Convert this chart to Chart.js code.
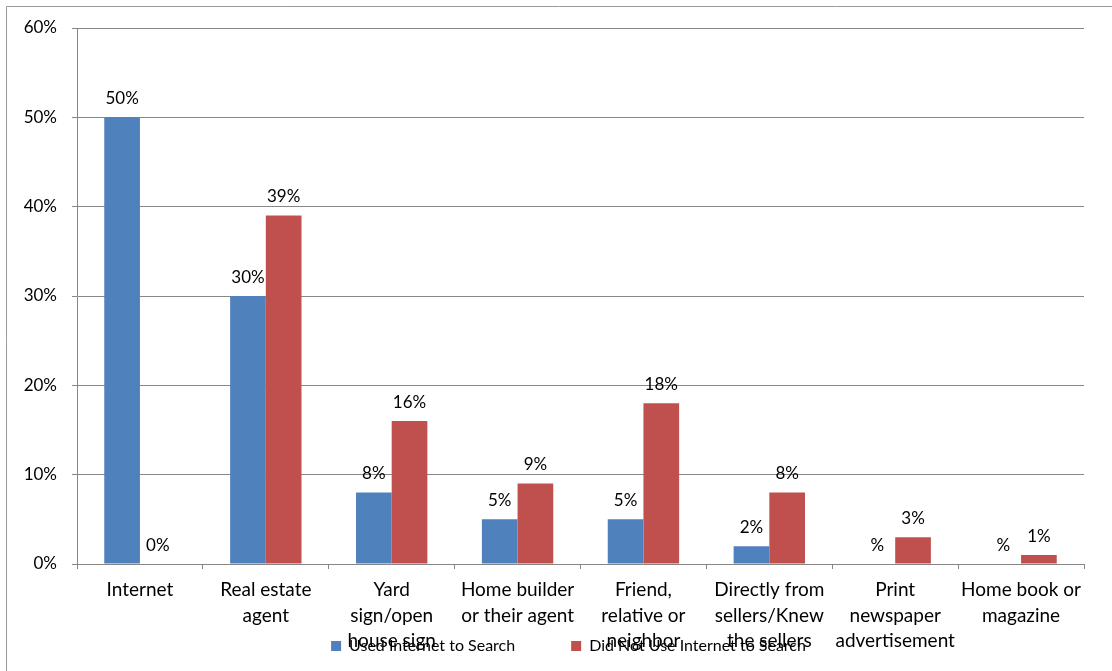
<!DOCTYPE html>
<html>
<head>
<meta charset="utf-8">
<title>Source used to find the home</title>
<script src="https://cdn.jsdelivr.net/npm/chart.js@4/dist/chart.umd.min.js"></script>
<style>
  html, body { margin: 0; padding: 0; background: #fff; }
  #wrap { width: 1112px; height: 671px; position: relative; }
</style>
</head>
<body>
<div id="wrap"><canvas id="chart" width="1112" height="671"></canvas></div>
<script>
// Where buyers first found the home they purchased
const categories = [
  ['Internet'],
  ['Real estate', 'agent'],
  ['Yard', 'sign/open', 'house sign'],
  ['Home builder', 'or their agent'],
  ['Friend,', 'relative or', 'neighbor'],
  ['Directly from', 'sellers/Knew', 'the sellers'],
  ['Print', 'newspaper', 'advertisement'],
  ['Home book or', 'magazine']
];
const seriesNames = ['Used Internet to Search', 'Did Not Use Internet to Search'];
const usedInternet = [50, 30, 8, 5, 5, 2, null, null];
const didNotUseInternet = [0, 39, 16, 9, 18, 8, 3, 1];
const yTicks = [0, 10, 20, 30, 40, 50, 60];

const FONT = 'Lato, "Open Sans", sans-serif';
const AXIS_GRAY = '#878787';

// White page with the thin frame along the top and left edges
const frame = {
  id: 'frame',
  beforeDraw(chart) {
    const ctx = chart.ctx;
    ctx.save();
    ctx.fillStyle = '#fff';
    ctx.fillRect(0, 0, chart.width, chart.height);
    ctx.strokeStyle = '#9a9a9a';
    ctx.lineWidth = 1;
    ctx.beginPath();
    ctx.moveTo(6.5, chart.height);
    ctx.lineTo(6.5, 6.5);
    ctx.lineTo(chart.width, 6.5);
    ctx.stroke();
    ctx.restore();
  }
};

// The legend sits low, over the last line of the category labels
const legendPlacement = {
  id: 'legendPlacement',
  afterLayout(chart) {
    const lg = chart.legend;
    if (!lg) return;
    lg.left = 53;
    lg.right = chart.chartArea.right;
    lg.width = lg.right - lg.left;
    lg.top = 582;
    lg.height = 82;
    lg.bottom = lg.top + lg.height;
  }
};

// Percentage printed above each bar
const valueLabels = {
  id: 'valueLabels',
  afterDatasetsDraw(chart) {
    const ctx = chart.ctx;
    const y = chart.scales.y;
    ctx.save();
    ctx.font = '17px ' + FONT;
    ctx.fillStyle = '#000';
    ctx.textAlign = 'center';
    ctx.textBaseline = 'alphabetic';
    chart.data.datasets.forEach((ds, di) => {
      chart.getDatasetMeta(di).data.forEach((bar, i) => {
        const v = ds.data[i];
        const top = y.getPixelForValue(v === null ? 0 : v);
        ctx.fillText((v === null ? '' : v) + '%', bar.x, top - 13.5);
      });
    });
    ctx.restore();
  }
};

Chart.defaults.color = '#000';
Chart.defaults.font.family = FONT;

new Chart(document.getElementById('chart'), {
  type: 'bar',
  data: {
    labels: categories,
    datasets: [
      { label: seriesNames[0], data: usedInternet, backgroundColor: '#4F81BD' },
      { label: seriesNames[1], data: didNotUseInternet, backgroundColor: '#C0504D' }
    ]
  },
  options: {
    responsive: false,
    devicePixelRatio: 1,
    animation: false,
    categoryPercentage: 0.567,
    barPercentage: 1,
    layout: { padding: { left: 0, right: 28, top: 28, bottom: 0 } },
    plugins: {
      tooltip: { enabled: false },
      legend: {
        position: 'bottom',
        maxHeight: 1,
        labels: {
          boxWidth: 10,
          boxHeight: 10,
          padding: 56,
          font: { size: 16 },
          color: '#000'
        }
      }
    },
    scales: {
      x: {
        afterFit(scale) { scale.height = 106; },
        grid: {
          drawOnChartArea: false,
          drawTicks: true,
          tickLength: 5,
          color: AXIS_GRAY
        },
        border: { color: AXIS_GRAY },
        ticks: {
          maxRotation: 0,
          autoSkip: false,
          padding: 8,
          font: { size: 19, lineHeight: 1.35 },
          color: '#000'
        }
      },
      y: {
        min: 0,
        max: 60,
        afterFit(scale) { scale.width = 77; },
        afterBuildTicks(scale) { scale.ticks = yTicks.map(v => ({ value: v })); },
        grid: { color: AXIS_GRAY, tickLength: 5 },
        border: { color: AXIS_GRAY },
        ticks: {
          padding: 15,
          font: { size: 17 },
          color: '#000',
          callback: v => v + '%'
        }
      }
    }
  },
  plugins: [frame, legendPlacement, valueLabels]
});
</script>
</body>
</html>
